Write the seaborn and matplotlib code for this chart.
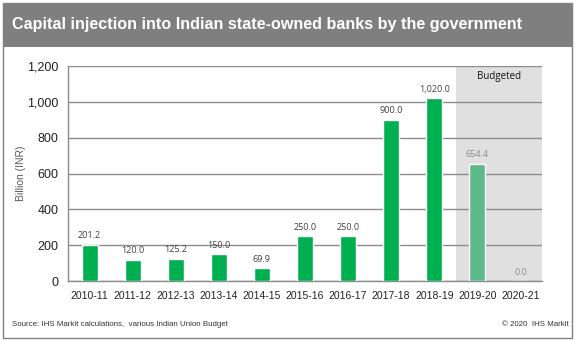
import matplotlib
matplotlib.use("Agg")
import matplotlib.pyplot as plt
from matplotlib.patches import Rectangle
import seaborn as sns
import pandas as pd

categories = ["2010-11", "2011-12", "2012-13", "2013-14", "2014-15", "2015-16",
              "2016-17", "2017-18", "2018-19", "2019-20", "2020-21"]
values = [201.2, 120.0, 125.2, 150.0, 69.9, 250.0, 250.0, 900.0, 1020.0, 654.4, 0.0]
status = ["Actual"] * 9 + ["Budgeted"] * 2
yticks = [0, 200, 400, 600, 800, 1000, 1200]

df = pd.DataFrame({"year": categories, "value": values, "status": status})

sns.set_theme(style="white")
plt.rcParams["font.family"] = ["Liberation Sans", "DejaVu Sans"]

W, H = 578, 341
fig = plt.figure(figsize=(W / 100, H / 100), dpi=100)

# outer frame and title bar
fig.patches.append(Rectangle((3 / W, 3 / H), 569 / W, 335 / H, transform=fig.transFigure,
                             fill=False, edgecolor="#808080", linewidth=1.0))
fig.patches.append(Rectangle((3 / W, 1 - 47 / H), 569 / W, 43 / H, transform=fig.transFigure,
                             facecolor="#7f7f7f", edgecolor="none"))
fig.text(12 / W, 1 - 25 / H, "Capital injection into Indian state-owned banks by the government",
         color="white", fontsize=11.6, fontweight="bold", va="center", ha="left")

ax = fig.add_axes([68 / W, 1 - 281 / H, (542 - 68) / W, (281 - 66) / H])

ax.axvspan(8.5, 10.5, color="#e0e0e0", zorder=0, linewidth=0)

sns.barplot(data=df, x="year", y="value", hue="status",
            palette={"Actual": "#00b050", "Budgeted": "#5fba89"},
            width=0.37, ax=ax, legend=False, zorder=3, saturation=1)

ax.set_ylim(0, 1200)
ax.set_xlim(-0.5, 10.5)
ax.set_yticks(yticks)
ax.set_yticklabels([f"{t:,}" for t in yticks], fontsize=9, color="#222222")
ax.tick_params(axis="x", labelsize=7.5, colors="#222222", length=0, pad=7)
ax.tick_params(axis="y", length=0, pad=7)
ax.yaxis.grid(True, color="#8c8c8c", linewidth=1.0, zorder=1)
ax.set_axisbelow(True)
ax.set_xlabel("")
ax.set_ylabel("")
for s in ["top", "right"]:
    ax.spines[s].set_visible(False)
for s in ["left", "bottom"]:
    ax.spines[s].set_color("#8c8c8c")
    ax.spines[s].set_linewidth(1.0)

fig.text(21 / W, 1 - 173 / H, "Billion (INR)", rotation=90, fontsize=7.5,
         color="#595959", ha="center", va="center")

for i, v in enumerate(values):
    col = "#404040" if i < 9 else "#8c8c8c"
    ax.text(i, v + 25, f"{v:,.1f}", ha="center", va="bottom", fontsize=6.5,
            color=col, family=["Open Sans", "DejaVu Sans"], zorder=4)

ax.text(9.5, 1140, "Budgeted", ha="center", va="center", fontsize=7,
        color="#111111", family=["Open Sans", "DejaVu Sans"])

fig.text(12 / W, 1 - 324 / H, "Source: IHS Markit calculations,  various Indian Union Budget",
         fontsize=5.7, color="#333333", va="center", ha="left")
fig.text(569 / W, 1 - 324 / H, "© 2020  IHS Markit", fontsize=5.7, color="#333333",
         va="center", ha="right")

fig.savefig("out.png", dpi=100)
